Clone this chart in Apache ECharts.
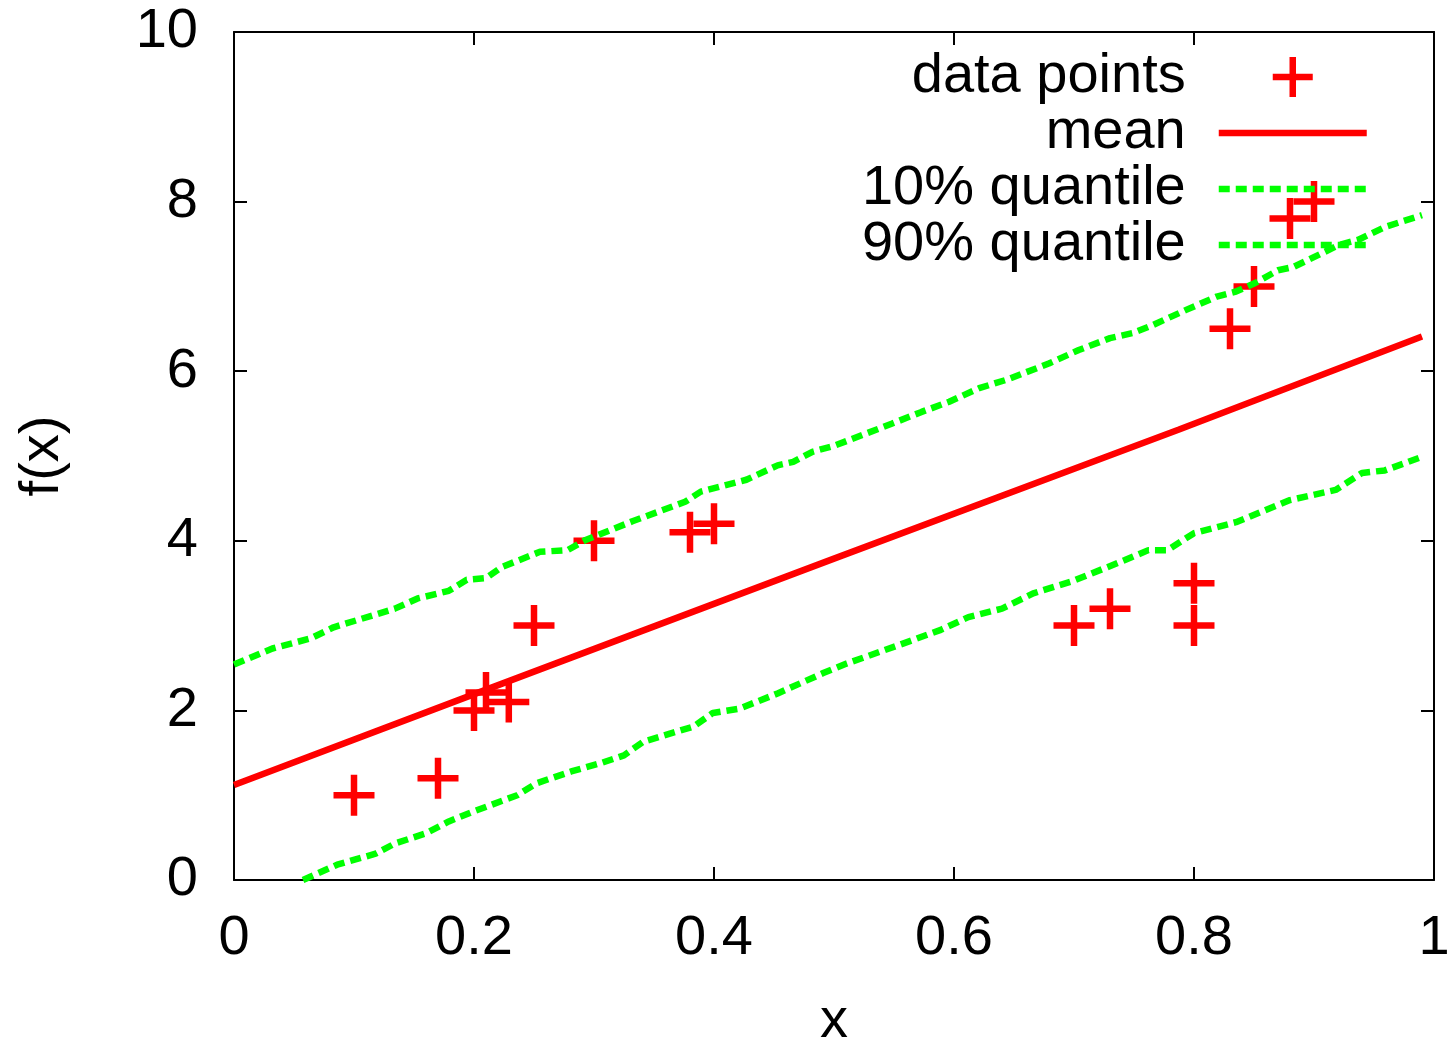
<!DOCTYPE html>
<html>
<head>
<meta charset="utf-8">
<script src="https://cdn.jsdelivr.net/npm/echarts@6/dist/echarts.min.js"></script>
<style>
  html, body { margin: 0; padding: 0; background: #fff; overflow: hidden; }
  #chart { width: 1447px; height: 1042px; }
</style>
</head>
<body>
<div id="chart"></div>
<script>
// ---- data ----
var seriesNames = ['data points', 'mean', '10% quantile', '90% quantile'];

var dataPoints = [
  [0.10, 1.0], [0.17, 1.2], [0.20, 2.0], [0.21, 2.21], [0.229, 2.1],
  [0.25, 3.0], [0.30, 4.0], [0.38, 4.1], [0.40, 4.2],
  [0.70, 3.0], [0.73, 3.2], [0.80, 3.5], [0.80, 3.0],
  [0.83, 6.5], [0.85, 7.0], [0.88, 7.8], [0.90, 8.0]
];

var meanLine = [
  [0, 1.12], [0.198, 2.18], [0.5, 3.79], [0.787, 5.31], [0.99, 6.41]
];

var lowerQuantile = [
  [0.0575, 0], [0.086, 0.18], [0.118, 0.31], [0.134, 0.43], [0.16, 0.55],
  [0.179, 0.69], [0.198, 0.80], [0.236, 1.0], [0.252, 1.14], [0.281, 1.28],
  [0.306, 1.38], [0.325, 1.47], [0.341, 1.63], [0.383, 1.81], [0.399, 1.97],
  [0.421, 2.02], [0.453, 2.20], [0.491, 2.44], [0.51, 2.55], [0.554, 2.77],
  [0.589, 2.95], [0.612, 3.10], [0.64, 3.20], [0.666, 3.38], [0.698, 3.52],
  [0.742, 3.77], [0.762, 3.89], [0.778, 3.89], [0.8, 4.09], [0.835, 4.22],
  [0.88, 4.48], [0.918, 4.60], [0.94, 4.80], [0.959, 4.83], [0.99, 4.99]
];

var upperQuantile = [
  [0, 2.54], [0.032, 2.73], [0.064, 2.85], [0.083, 2.98], [0.134, 3.20],
  [0.153, 3.32], [0.179, 3.41], [0.194, 3.54], [0.21, 3.56], [0.223, 3.69],
  [0.255, 3.87], [0.278, 3.89], [0.293, 4.01], [0.332, 4.23], [0.376, 4.46],
  [0.389, 4.58], [0.427, 4.72], [0.453, 4.89], [0.466, 4.93], [0.482, 5.05],
  [0.5, 5.12], [0.548, 5.38], [0.573, 5.52], [0.596, 5.64], [0.621, 5.80],
  [0.644, 5.90], [0.679, 6.09], [0.704, 6.25], [0.730, 6.39], [0.749, 6.45],
  [0.765, 6.54], [0.793, 6.72], [0.819, 6.88], [0.835, 6.94], [0.851, 7.04],
  [0.870, 7.19], [0.883, 7.23], [0.921, 7.49], [0.937, 7.55], [0.959, 7.70],
  [0.99, 7.84]
];

var xRange = [0, 1, 0.2];
var yRange = [0, 10, 2];
var xTitle = 'x';
var yTitle = 'f(x)';

// ---- styling ----
var FONT = 'Liberation Sans, Arial, Helvetica, sans-serif';
var FS = 56;
var RED = '#ff0000';
var GREEN = '#00ff00';
var LW = 6.5;
var DASH = [11, 6];
var PLUS = 'path://M0,-20 L0,20 M-20,0 L20,0';

function makeAxis(pos, range, showLabels, title, nameGap, labelMargin) {
  var a = {
    type: 'value',
    position: pos,
    min: range[0], max: range[1], interval: range[2],
    axisLine: { show: true, onZero: false, lineStyle: { color: '#000', width: 2 } },
    axisTick: { show: true, inside: true, length: 13, lineStyle: { color: '#000', width: 2 } },
    axisLabel: { show: showLabels, fontSize: FS, fontFamily: FONT, color: '#000', margin: labelMargin },
    splitLine: { show: false }
  };
  if (title) {
    a.name = title;
    a.nameLocation = 'middle';
    a.nameGap = nameGap;
    a.nameTextStyle = { fontSize: FS, fontFamily: FONT, color: '#000' };
  }
  return a;
}

var chart = echarts.init(document.getElementById('chart'), null, { renderer: 'canvas' });

chart.setOption({
  animation: false,
  backgroundColor: '#fff',
  grid: { left: 234, right: 13, top: 32, bottom: 162, containLabel: false, outerBoundsMode: 'none' },
  xAxis: [
    makeAxis('bottom', xRange, true, xTitle, 114, 31),
    makeAxis('top', xRange, false, null)
  ],
  yAxis: [
    makeAxis('left', yRange, true, yTitle, 163, 36),
    makeAxis('right', yRange, false, null)
  ],
  legend: {
    orient: 'vertical',
    align: 'right',
    right: 77,
    top: 49,
    padding: 0,
    itemWidth: 148,
    itemHeight: 40,
    itemGap: 0,
    selectedMode: false,
    symbolKeepAspect: true,
    textStyle: { fontSize: FS, fontFamily: FONT, color: '#000', padding: [0, 28, 0, 0] },
    lineStyle: { width: LW },
    data: [
      { name: seriesNames[0], itemStyle: { color: RED, borderColor: RED, borderWidth: LW } },
      { name: seriesNames[1], itemStyle: { opacity: 0 }, lineStyle: { width: LW, color: RED, type: 'solid' } },
      { name: seriesNames[2], itemStyle: { opacity: 0 }, lineStyle: { width: LW, color: GREEN, type: DASH } },
      { name: seriesNames[3], itemStyle: { opacity: 0 }, lineStyle: { width: LW, color: GREEN, type: DASH } }
    ]
  },
  series: [
    {
      name: seriesNames[0],
      type: 'scatter',
      symbol: PLUS,
      symbolSize: 41,
      itemStyle: { color: RED, borderColor: RED, borderWidth: LW, opacity: 1 },
      emphasis: { disabled: true },
      data: dataPoints,
      z: 2
    },
    {
      name: seriesNames[1],
      type: 'line',
      showSymbol: false, symbol: 'none',
      lineStyle: { color: RED, width: LW },
      itemStyle: { color: RED },
      emphasis: { disabled: true },
      data: meanLine,
      clip: true,
      z: 3
    },
    {
      name: seriesNames[2],
      type: 'line',
      showSymbol: false, symbol: 'none',
      lineStyle: { color: GREEN, width: LW, type: DASH },
      itemStyle: { color: GREEN },
      emphasis: { disabled: true },
      data: lowerQuantile,
      clip: true,
      z: 3
    },
    {
      name: seriesNames[3],
      type: 'line',
      showSymbol: false, symbol: 'none',
      lineStyle: { color: GREEN, width: LW, type: DASH },
      itemStyle: { color: GREEN },
      emphasis: { disabled: true },
      data: upperQuantile,
      clip: true,
      z: 3
    }
  ]
});
</script>
</body>
</html>
